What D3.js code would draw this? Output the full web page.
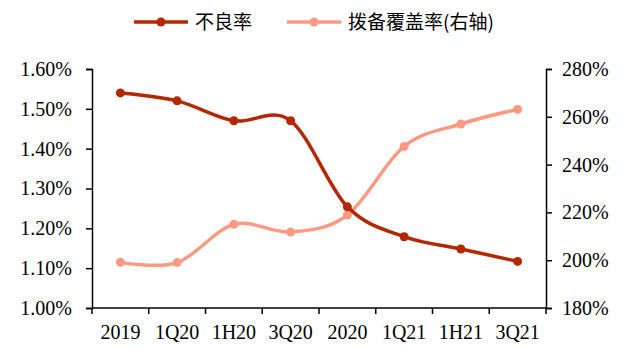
<!DOCTYPE html>
<html>
<head>
<meta charset="utf-8">
<script src="https://cdn.jsdelivr.net/npm/d3@7"></script>
<style>
  body { margin: 0; background: #fff; }
  text { font-family: "Liberation Serif", "Times New Roman", serif; fill: #000; }
  .cn { font-family: "Noto Sans CJK SC", sans-serif; }
</style>
</head>
<body>
<div id="main"></div>
<script>
// categories and series
const periods = ['2019', '1Q20', '1H20', '3Q20', '2020', '1Q21', '1H21', '3Q21'];
const nplRatio = [1.54, 1.52, 1.47, 1.47, 1.254, 1.179, 1.148, 1.117];
const coverage = [199.1, 199.0, 215.0, 211.8, 218.9, 247.6, 257.0, 263.1];
const leftTicks = [1.0, 1.1, 1.2, 1.3, 1.4, 1.5, 1.6];
const rightTicks = [180, 200, 220, 240, 260, 280];
const seriesNames = ['不良率', '拨备覆盖率(右轴)'];
const colors = ['#B32800', '#FF9A82'];

function main() {
  const svg = d3.select('#main').append('svg')
    .attr('width', 625).attr('height', 347);

  const left = 92, right = 546, top = 69, bottom = 308;

  const x = d3.scaleBand().domain(periods).range([left, right]);
  const yL = d3.scaleLinear().domain([1.0, 1.6]).range([bottom, top]);
  const yR = d3.scaleLinear().domain([180, 280]).range([bottom, top]);

  // axes
  const axL = svg.append('g').attr('transform', `translate(${left},0)`)
    .call(d3.axisLeft(yL).tickValues(leftTicks).tickSize(6).tickPadding(14)
      .tickFormat(d => d.toFixed(2) + '%'));
  const axR = svg.append('g').attr('transform', `translate(${right},0)`)
    .call(d3.axisRight(yR).tickValues(rightTicks).tickSize(6).tickPadding(10)
      .tickFormat(d => d + '%'));
  const axB = svg.append('g').attr('transform', `translate(0,${bottom})`)
    .call(d3.axisBottom(x).tickSize(0).tickPadding(17));
  // bottom ticks sit on category boundaries
  axB.selectAll('.bnd')
    .data(d3.range(periods.length + 1))
    .enter().append('line')
    .attr('x1', i => left + i * x.step()).attr('x2', i => left + i * x.step())
    .attr('y1', 0).attr('y2', 6)
    .attr('stroke', '#000').attr('stroke-width', 1.5);

  [axL, axR, axB].forEach(a => {
    a.select('.domain').attr('stroke', '#000').attr('stroke-width', 1.5);
    a.selectAll('.tick line').attr('stroke', '#000').attr('stroke-width', 1.5);
    a.selectAll('text').style('font-size', '20px')
      .style('font-family', '"Liberation Serif", serif');
  });
  axB.select('.domain').attr('d', `M${left},0H${right}`);

  const cx = d => x(d) + x.bandwidth() / 2;
  const curve = d3.curveCardinal.tension(0);

  const plot = svg.append('g');
  const series = [
    { vals: nplRatio, y: yL, color: colors[0] },
    { vals: coverage, y: yR, color: colors[1] }
  ];
  // draw coverage first so the NPL line stays on top where they cross
  [series[1], series[0]].forEach(s => {
    const line = d3.line().x((v, i) => cx(periods[i])).y(v => s.y(v)).curve(curve);
    plot.append('path').attr('d', line(s.vals))
      .attr('fill', 'none').attr('stroke', s.color).attr('stroke-width', 3.5);
    plot.selectAll(null).data(s.vals).enter().append('circle')
      .attr('cx', (v, i) => cx(periods[i])).attr('cy', v => s.y(v))
      .attr('r', 4.5).attr('fill', s.color);
  });

  // legend
  const legendX = [134, 287];
  const legend = svg.append('g');
  seriesNames.forEach((name, i) => {
    const g = legend.append('g').attr('transform', `translate(${legendX[i]},22)`);
    g.append('line').attr('x1', 0).attr('x2', 54).attr('y1', 0).attr('y2', 0)
      .attr('stroke', colors[i]).attr('stroke-width', 3.5);
    g.append('circle').attr('cx', 27).attr('cy', 0).attr('r', 4.5).attr('fill', colors[i]);
    g.append('text').attr('class', 'cn').attr('x', 61).attr('y', 7)
      .style('font-size', '19px').text(name);
  });
}
document.addEventListener('DOMContentLoaded', main);
</script>
</body>
</html>
